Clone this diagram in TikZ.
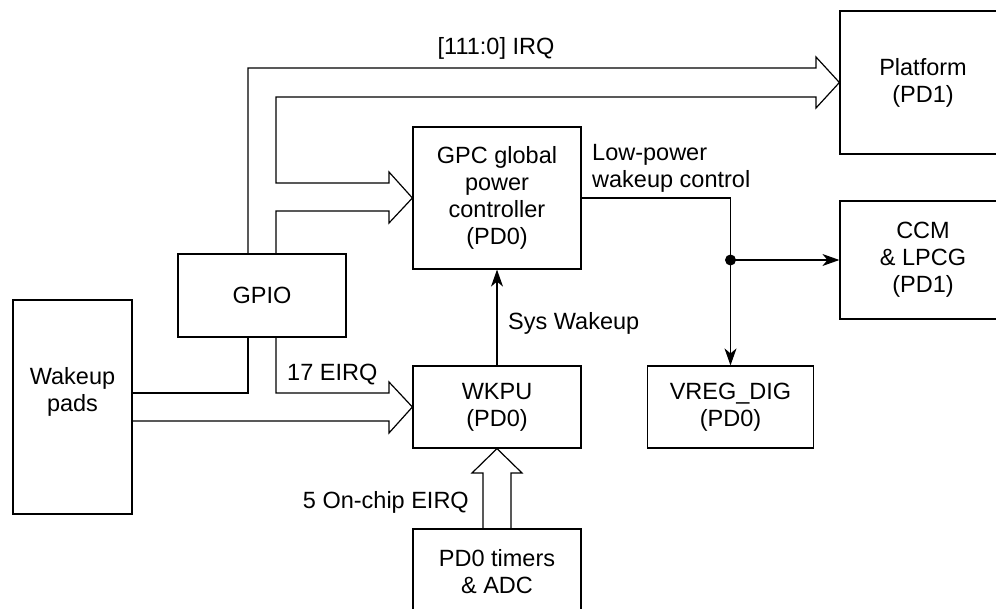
\documentclass[tikz,border=0pt]{standalone}
\usepackage{fontspec}
\setmainfont{Liberation Sans}
\usepackage{tikz}
\usetikzlibrary{arrows.meta, calc}
\tikzstyle{block} = [
    rectangle,
    draw=black,
    line width=1.2pt,
    align=center,
    inner sep=0pt
]
\tikzstyle{lbl} = [
    inner sep=0pt,
    align=left
]
\tikzstyle{bus} = [line width=1.2pt, line join=miter]
\tikzstyle{arrow} = [line width=1.2pt,-{Stealth[length=17pt,width=12pt,inset=5pt]}]

\begin{document}
\begin{tikzpicture}[x=1pt, y=-1pt, font=\fontsize{23.5}{27}\selectfont]

\clip (0,0) rectangle (996,609);

\node (pads) [block, minimum width=119pt, minimum height=214pt] at (72.5,407) {};
\node (padstext) at (72.5,392) [lbl, align=center] {Wakeup\\pads};

\node (gpio) [block, minimum width=168pt, minimum height=83pt] at (262,295.5)
{GPIO};

\node (gpc) [block, minimum width=168pt, minimum height=142pt] at (497,198)
{GPC global\\power\\controller\\(PD0)};

\node (wkpu) [block, minimum width=168pt, minimum height=82pt] at (497,407)
{WKPU\\(PD0)};

\node (timers) [block, minimum width=168pt, minimum height=86pt] at (497,572)
{PD0 timers\\\& ADC};

\node (vreg) [block, minimum width=166pt, minimum height=82pt] at (730.5,407)
{VREG\_DIG\\(PD0)};

\node (platform) [block, minimum width=166pt, minimum height=143pt] at (923,82.5)
{Platform\\(PD1)};

\node (ccm) [block, minimum width=166pt, minimum height=118pt] at (923,260)
{CCM\\\& LPCG\\(PD1)};

% labels
\node (irq) [lbl] at (496,48) {[111:0] IRQ};
\node (lowpower) [lbl, anchor=west] at (592,168) {Low-power\\wakeup control};
\node (syswake) [lbl, anchor=west] at (508,323) {Sys Wakeup};
\node (eirq) [lbl, anchor=west] at (287,375) {17 EIRQ};
\node (onchip) [lbl, anchor=east] at (469,502) {5 On-chip EIRQ};

% wide arrows
\draw [bus] (pads.east |- 0,421) -- (389,421) -- (389,433) -- (wkpu.west)
    -- (389,382) -- (389,393) -- (276,393) -- (276,0 |- gpio.south);
\draw [bus] (pads.east |- 0,393) -- (248,393) -- (248,0 |- gpio.south);

\draw [bus] (248,0 |- gpio.north) -- (248,68) -- (816,68) -- (816,57)
    -- (platform.west) -- (816,108) -- (816,97) -- (276,97) -- (276,183)
    -- (389,183) -- (389,172) -- (gpc.west) -- (389,223) -- (389,211)
    -- (276,211) -- (276,0 |- gpio.north);

\draw [bus] (483,0 |- timers.north) -- (483,473) -- (472,473) -- (wkpu.south)
    -- (522,473) -- (511,473) -- (511,0 |- timers.north);

% thin arrows
\coordinate (split) at (vreg.north |- ccm.west);
\draw [arrow] (wkpu) -- (gpc);
\draw [arrow] (gpc.east) -| (vreg.north);
\draw [arrow] (split) -- (ccm.west);
\fill (split) circle (5.5pt);

\end{tikzpicture}
\end{document}
